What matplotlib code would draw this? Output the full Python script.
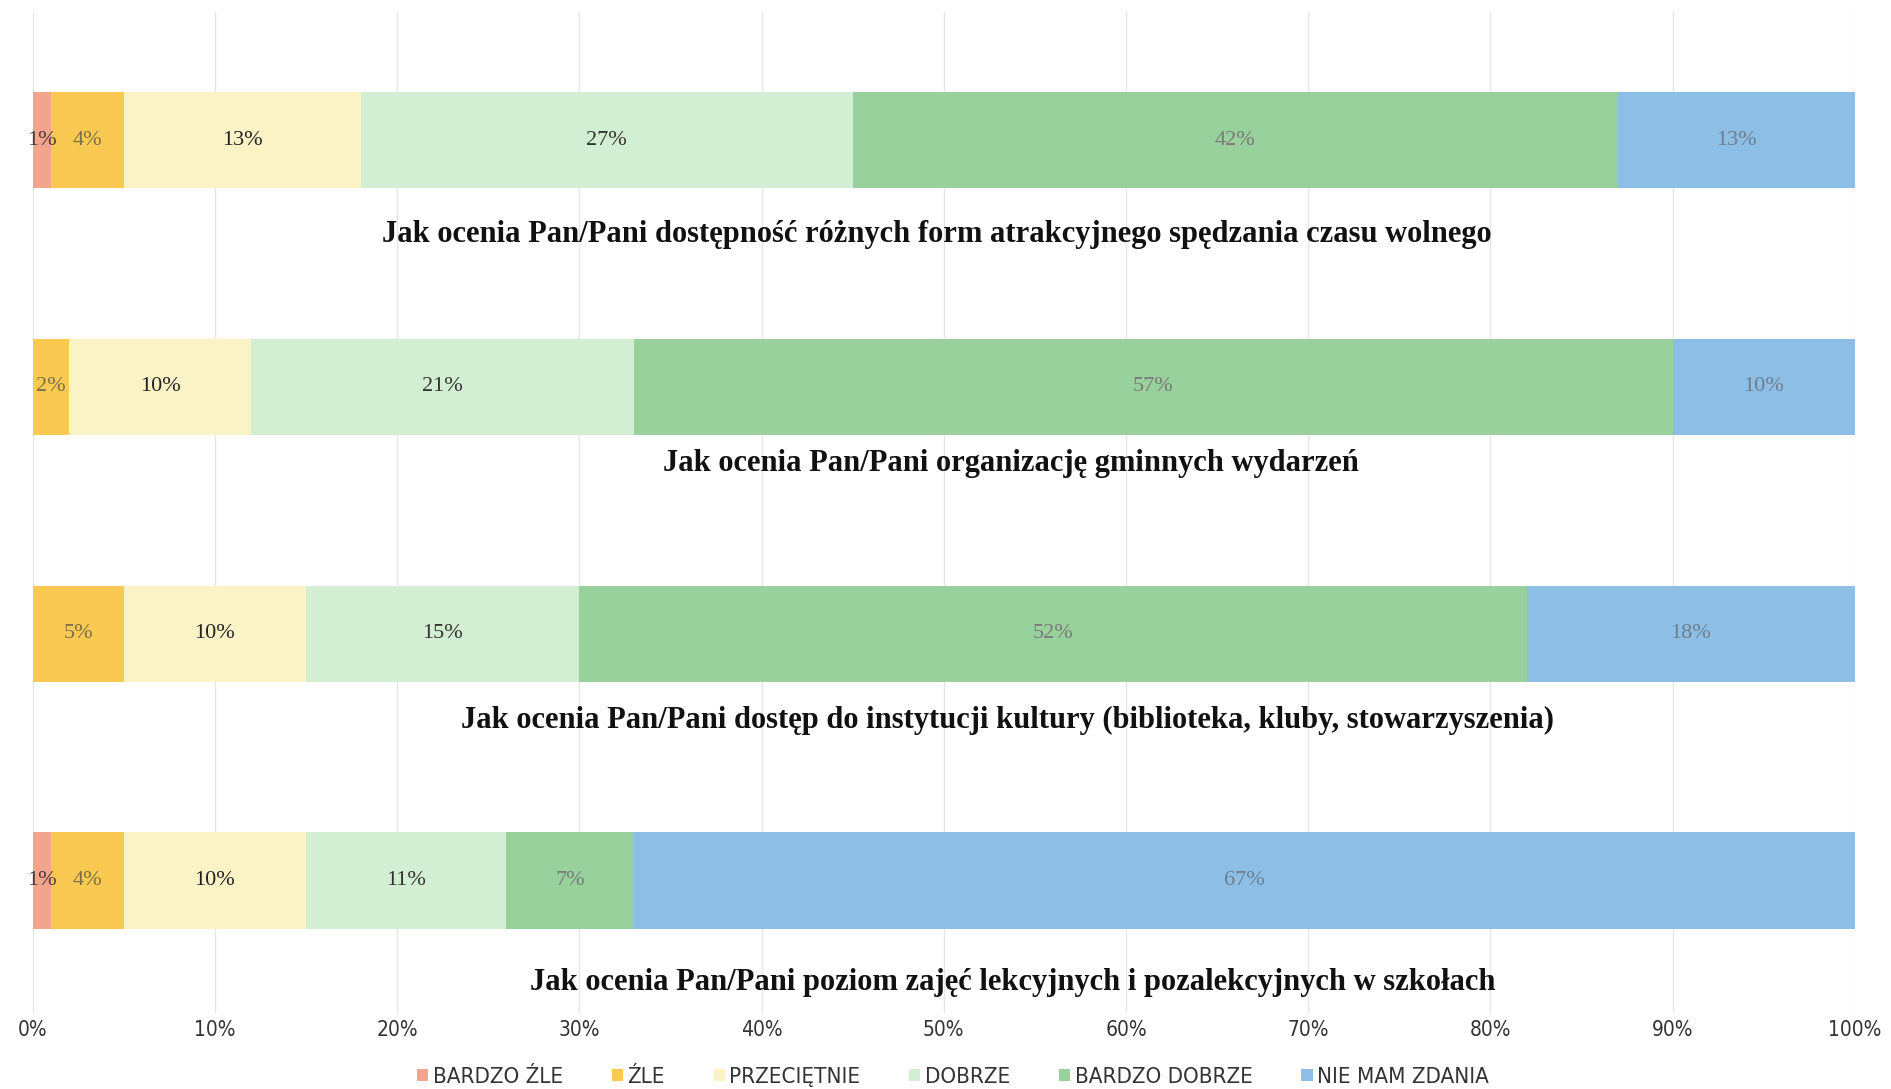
import numpy as np
import matplotlib.pyplot as plt

questions = [
    "Jak ocenia Pan/Pani dostępność różnych form atrakcyjnego spędzania czasu wolnego",
    "Jak ocenia Pan/Pani organizację gminnych wydarzeń",
    "Jak ocenia Pan/Pani dostęp do instytucji kultury (biblioteka, kluby, stowarzyszenia)",
    "Jak ocenia Pan/Pani poziom zajęć lekcyjnych i pozalekcyjnych w szkołach",
]
answers = ["BARDZO ŹLE", "ŹLE", "PRZECIĘTNIE", "DOBRZE", "BARDZO DOBRZE", "NIE MAM ZDANIA"]

bardzo_zle = [1, 0, 0, 1]
zle = [4, 2, 5, 4]
przecietnie = [13, 10, 10, 10]
dobrze = [27, 21, 15, 11]
bardzo_dobrze = [42, 57, 52, 7]
nie_mam_zdania = [13, 10, 18, 67]

series = [bardzo_zle, zle, przecietnie, dobrze, bardzo_dobrze, nie_mam_zdania]
colors = ["#F2A48C", "#F9C952", "#FBF2C6", "#D3EFD3", "#98D19B", "#8DBEE6"]
text_colors = ["#4A3A3A", "#7A7048", "#222222", "#333333", "#7A7A7A", "#6E7E8E"]
# where the question text sits under each bar
title_x = [49.6, 53.7, 53.5, 53.8]
title_dy = [0.38, 0.31, 0.35, 0.415]

fig = plt.figure(figsize=(18.91, 10.89), dpi=100)
ax = fig.add_axes([0.01724, 0.0698, 0.9637, 0.919])

y = np.arange(len(questions))
left = np.zeros(len(questions))
for name, vals, c, tc in zip(answers, series, colors, text_colors):
    vals = np.array(vals, dtype=float)
    ax.barh(y, vals, left=left, height=0.39, color=c, label=name, zorder=2)
    for yi, v, l in zip(y, vals, left):
        if v > 0:
            ax.text(l + v / 2, yi, f"{int(v)}%", ha="center", va="center",
                    fontsize=16, family="Liberation Serif", color=tc, zorder=3)
    left += vals

for yi, q, tx, dy in zip(y, questions, title_x, title_dy):
    ax.text(tx, yi + dy, q, ha="center", va="center", fontsize=22,
            family="Liberation Serif", fontweight="bold", color="#111111")

ax.set_xlim(0, 100)
ax.set_ylim(3.537, -0.519)
ax.set_xticks(np.arange(0, 101, 10))
ax.set_xticklabels([f"{t}%" for t in range(0, 101, 10)],
                   family="DejaVu Sans", stretch="condensed", fontsize=15, color="#333333")
ax.set_yticks([])
ax.tick_params(axis="x", length=0, pad=5)
ax.grid(axis="x", color="#E6E6E6", linewidth=1, zorder=0)
for s in ax.spines.values():
    s.set_visible(False)

fig.legend(loc="center", bbox_to_anchor=(0.504, 0.011), ncol=6, frameon=False,
           prop={"family": "DejaVu Sans", "stretch": "condensed", "size": 16},
           handlelength=0.5, handleheight=0.5, handletextpad=0.2, columnspacing=2.2,
           labelcolor="#333333")

fig.savefig("out.png", dpi=100)
